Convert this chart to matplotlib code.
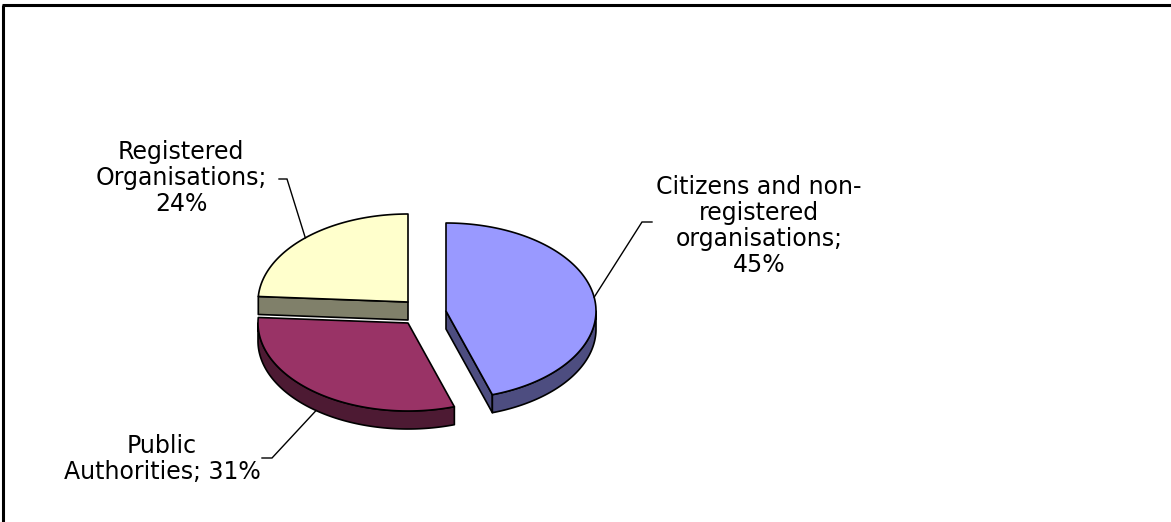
import numpy as np
import matplotlib
matplotlib.use('agg')
import matplotlib.pyplot as plt
from matplotlib.patches import Polygon

# slice data, clockwise from 12 o'clock
labels = ["Citizens and non-\nregistered\norganisations;\n45%",
          "Public\nAuthorities; 31%",
          "Registered\nOrganisations;\n24%"]
values = [45, 31, 24]
top_colors = ["#9999FF", "#993366", "#FFFFCC"]
side_colors = ["#4D4D80", "#4D1A33", "#80806A"]

# layout (pixel space)
W, H = 1171, 522
cx, cy = 408, 310
rx, ry = 150, 88
depth = 18
shifts = [(38, 1), (0, 13), (0, -8)]
label_pos = [(759, 226), (162, 459), (181, 178)]
elbows = [((652, 222), (642, 222)), ((262, 458), (272, 458)), ((279, 179), (287, 179))]
anchor_on_bottom = [False, True, False]


def rim(a0, a1, ox, oy, dz=0, n=150):
    t = np.radians(np.linspace(a0, a1, n))
    return np.column_stack([ox + rx * np.sin(t), oy - ry * np.cos(t) + dz])


def pt(a, ox, oy, dz=0):
    t = np.radians(a)
    return (ox + rx * np.sin(t), oy - ry * np.cos(t) + dz)


fig = plt.figure(figsize=(W / 100, H / 100), dpi=100)
ax = fig.add_axes([0, 0, 1, 1])
ax.set_xlim(0, W)
ax.set_ylim(H, 0)
ax.axis('off')

ends = np.cumsum(values) / sum(values) * 360
starts = np.concatenate([[0], ends[:-1]])

ekw = dict(edgecolor='black', linewidth=1.2, joinstyle='round')

# back slices first
for i in reversed(range(len(values))):
    a0, a1 = starts[i], ends[i]
    ox, oy = cx + shifts[i][0], cy + shifts[i][1]
    apex = (ox, oy)
    # cut faces facing the viewer
    if np.sin(np.radians(a0)) < -1e-6:
        p = pt(a0, ox, oy)
        ax.add_patch(Polygon([apex, p, (p[0], p[1] + depth), (ox, oy + depth)],
                             facecolor=side_colors[i], **ekw))
    if np.sin(np.radians(a1)) > 1e-6:
        p = pt(a1, ox, oy)
        ax.add_patch(Polygon([apex, p, (p[0], p[1] + depth), (ox, oy + depth)],
                             facecolor=side_colors[i], **ekw))
    # front rim
    lo, hi = max(a0, 90), min(a1, 270)
    if hi > lo:
        up = rim(lo, hi, ox, oy)
        down = rim(lo, hi, ox, oy, depth)[::-1]
        ax.add_patch(Polygon(np.vstack([up, down]), facecolor=side_colors[i], **ekw))
    # top face
    top = np.vstack([[apex], rim(a0, a1, ox, oy)])
    ax.add_patch(Polygon(top, facecolor=top_colors[i], **ekw))

# labels with leader lines
for i in range(len(values)):
    ox, oy = cx + shifts[i][0], cy + shifts[i][1]
    mid = (starts[i] + ends[i]) / 2
    anc = pt(mid, ox, oy, depth if anchor_on_bottom[i] else 0)
    e0, e1 = elbows[i]
    ax.plot([e0[0], e1[0], anc[0]], [e0[1], e1[1], anc[1]],
            color='black', linewidth=1.0, solid_joinstyle='miter')
    ax.text(label_pos[i][0], label_pos[i][1], labels[i], ha='center', va='center',
            multialignment='center', fontsize=17, family='DejaVu Sans',
            linespacing=1.1, color='black')

# chart area border (left and top visible)
ax.plot([3, 3], [H, 5], color='black', linewidth=2.2, solid_capstyle='butt')
ax.plot([2, W], [5, 5], color='black', linewidth=2.2, solid_capstyle='butt')

fig.savefig('out.png', dpi=100)
